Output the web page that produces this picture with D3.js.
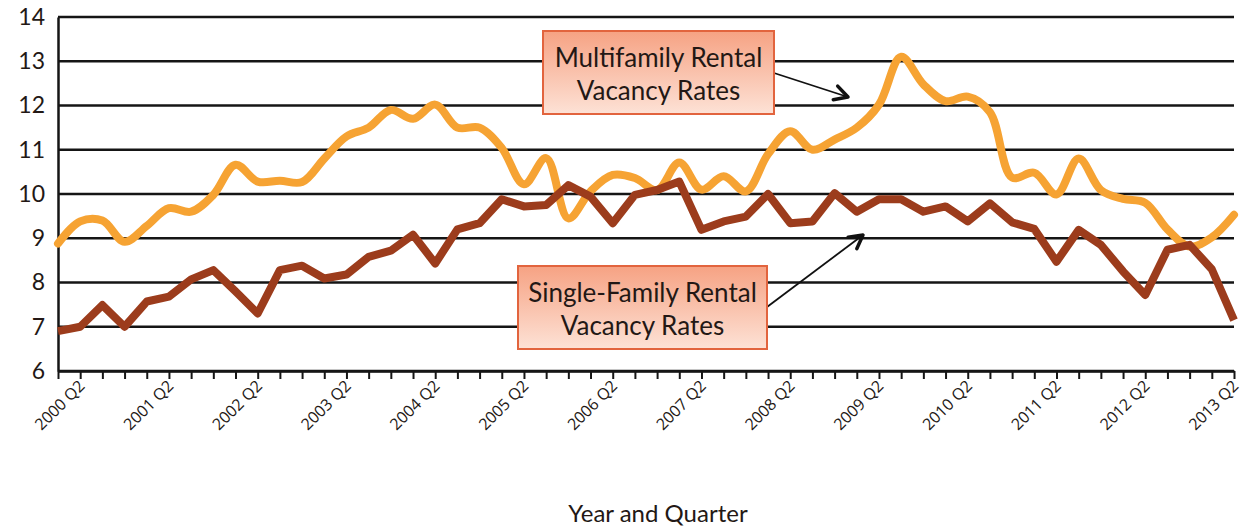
<!DOCTYPE html>
<html>
<head>
<meta charset="utf-8">
<script src="https://cdn.jsdelivr.net/npm/d3@7"></script>
<style>
  body { margin: 0; background: #fff; }
  text { font-family: Lato, "Open Sans", sans-serif; fill: #231815; }
</style>
</head>
<body>
<div id="chart"></div>
<script>
// quarters: 2000 Q1 .. 2013 Q2
var years = [2000, 2001, 2002, 2003, 2004, 2005, 2006, 2007, 2008, 2009, 2010, 2011, 2012, 2013]
var quarters = []
years.forEach(function (y) {
    [1, 2, 3, 4].forEach(function (q) {
        if (y == 2013 && q > 2) return
        quarters.push(y + " Q" + q)
    })
})

var tickLabels = ["2000 Q2", "2001 Q2", "2002 Q2", "2003 Q2", "2004 Q2", "2005 Q2", "2006 Q2",
    "2007 Q2", "2008 Q2", "2009 Q2", "2010 Q2", "2011 Q2", "2012 Q2", "2013 Q2"]
var yTicks = [6, 7, 8, 9, 10, 11, 12, 13, 14]

// multifamily rental vacancy rates
var multifamily = [8.88, 9.38, 9.4, 8.92, 9.28, 9.68, 9.6, 9.98, 10.66, 10.28, 10.3, 10.27, 10.8, 11.3,
    11.5, 11.9, 11.7, 12.02, 11.5, 11.5, 11.04, 10.22, 10.81, 9.45, 10.06, 10.43, 10.36, 10.09,
    10.71, 10.1, 10.4, 10.06, 10.9, 11.42, 11.0, 11.23, 11.5, 12.02, 13.1, 12.48, 12.1, 12.2,
    11.85, 10.37, 10.48, 9.99, 10.8, 10.09, 9.89, 9.8, 9.2, 8.81, 9.02, 9.53]

// single-family rental vacancy rates
var singleFamily = [6.9, 7.0, 7.49, 7.0, 7.57, 7.68, 8.07, 8.28, 7.8, 7.3, 8.28, 8.38, 8.09, 8.18,
    8.58, 8.72, 9.08, 8.43, 9.2, 9.34, 9.88, 9.72, 9.75, 10.2, 9.94, 9.34, 9.98, 10.09,
    10.28, 9.19, 9.38, 9.49, 10.0, 9.34, 9.38, 10.02, 9.6, 9.88, 9.88, 9.6, 9.72, 9.38,
    9.79, 9.36, 9.21, 8.47, 9.19, 8.85, 8.25, 7.72, 8.74, 8.85, 8.3, 7.15]

var width = 1247
var height = 529

var svg = d3.select("#chart")
    .append("svg")
    .attr("width", width)
    .attr("height", height)

var x = d3.scalePoint()
    .domain(quarters)
    .range([58, 1234])

var y = d3.scaleLinear()
    .domain([6, 14])
    .range([371, 17])

// gradient for the callout boxes
var grad = svg.append("defs").append("linearGradient")
    .attr("id", "boxfill")
    .attr("x1", 0).attr("y1", 0).attr("x2", 0).attr("y2", 1)
grad.append("stop").attr("offset", "0%").attr("stop-color", "#f6a283")
grad.append("stop").attr("offset", "100%").attr("stop-color", "#fde2d6")

// gridlines
svg.append("g")
    .selectAll("line")
    .data(yTicks)
    .enter()
    .append("line")
    .attr("x1", 58)
    .attr("x2", 1234)
    .attr("y1", function (d) { return y(d) })
    .attr("y2", function (d) { return y(d) })
    .attr("stroke", "#151515")
    .attr("stroke-width", 2.5)

// y axis
var yAxis = svg.append("g")
    .attr("transform", "translate(58,0)")
    .call(d3.axisLeft(y).tickValues(yTicks).tickSize(0).tickPadding(13))
yAxis.select(".domain").attr("stroke", "#151515").attr("stroke-width", 2.5)
yAxis.selectAll("text")
    .style("font-size", "23px")
    .style("font-family", "Lato, sans-serif")
    .attr("fill", "#231815")

// x axis
var xAxis = svg.append("g")
    .attr("transform", "translate(0," + y(6) + ")")
    .call(d3.axisBottom(x).tickSize(8).tickSizeOuter(0)
        .tickFormat(function (d) { return tickLabels.indexOf(d) >= 0 ? d : "" }))
xAxis.select(".domain").attr("stroke", "#151515").attr("stroke-width", 2.5)
xAxis.selectAll(".tick line").attr("stroke", "#151515").attr("stroke-width", 2)
xAxis.selectAll("text")
    .style("font-size", "16px")
    .style("font-family", "'Open Sans', sans-serif")
    .attr("fill", "#231815")
    .attr("text-anchor", "end")
    .attr("dy", "0")
    .attr("transform", "translate(5,16) rotate(-45)")
    .attr("y", 0)
    .attr("x", 0)

// lines
var orangeLine = d3.line()
    .x(function (d, i) { return x(quarters[i]) })
    .y(function (d) { return y(d) })
    .curve(d3.curveCatmullRom.alpha(0.5))

var brownLine = d3.line()
    .x(function (d, i) { return x(quarters[i]) })
    .y(function (d) { return y(d) })

svg.append("path")
    .datum(multifamily)
    .attr("d", orangeLine)
    .attr("fill", "none")
    .attr("stroke", "#f6a333")
    .attr("stroke-width", 8)
    .attr("stroke-linejoin", "round")
    .attr("stroke-linecap", "round")

svg.append("path")
    .datum(singleFamily)
    .attr("d", brownLine)
    .attr("fill", "none")
    .attr("stroke", "#9c3c1c")
    .attr("stroke-width", 8)
    .attr("stroke-linejoin", "round")

// callouts
function callout(x0, y0, w, h, lines, from, to) {
    svg.append("line")
        .attr("x1", from[0]).attr("y1", from[1])
        .attr("x2", to[0]).attr("y2", to[1])
        .attr("stroke", "#111")
        .attr("stroke-width", 1.8)
    // arrow head
    var ang = Math.atan2(to[1] - from[1], to[0] - from[0])
    var len = 15
    var pts = [
        [to[0] - len * Math.cos(ang - 0.5), to[1] - len * Math.sin(ang - 0.5)],
        to,
        [to[0] - len * Math.cos(ang + 0.5), to[1] - len * Math.sin(ang + 0.5)]
    ]
    svg.append("path")
        .attr("d", d3.line()(pts))
        .attr("fill", "none")
        .attr("stroke", "#111")
        .attr("stroke-width", 3.5)
        .attr("stroke-linecap", "round")
        .attr("stroke-linejoin", "round")

    svg.append("rect")
        .attr("x", x0).attr("y", y0)
        .attr("width", w).attr("height", h)
        .attr("fill", "url(#boxfill)")
        .attr("stroke", "#e2643e")
        .attr("stroke-width", 2)
    svg.append("text")
        .attr("x", x0 + w / 2)
        .attr("y", y0 + 36)
        .attr("text-anchor", "middle")
        .style("font-size", "26px")
        .text(lines[0])
    svg.append("text")
        .attr("x", x0 + w / 2)
        .attr("y", y0 + 69)
        .attr("text-anchor", "middle")
        .style("font-size", "26px")
        .text(lines[1])
}

callout(543, 31, 231, 83, ["Multifamily Rental", "Vacancy Rates"], [774, 73], [848, 97])
callout(518, 266, 249, 83, ["Single-Family Rental", "Vacancy Rates"], [767, 307], [863, 235])

// axis title
svg.append("text")
    .attr("x", 658)
    .attr("y", 522)
    .attr("text-anchor", "middle")
    .style("font-size", "24px")
    .text("Year and Quarter")
</script>
</body>
</html>
